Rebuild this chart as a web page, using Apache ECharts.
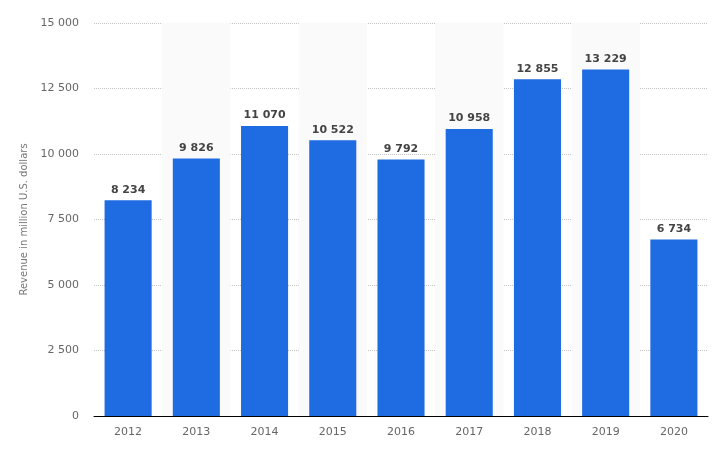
<!DOCTYPE html>
<html>
<head>
<meta charset="utf-8">
<script src="https://cdn.jsdelivr.net/npm/echarts@6/dist/echarts.min.js"></script>
<style>
  html, body { margin: 0; padding: 0; background: #fff; }
  #main { width: 712px; height: 451px; }
</style>
</head>
<body>
<div id="main"></div>
<script>
// years and revenue (million U.S. dollars)
const years = ['2012', '2013', '2014', '2015', '2016', '2017', '2018', '2019', '2020']
const revenue = [8234, 9826, 11070, 10522, 9792, 10958, 12855, 13229, 6734]
const yTicks = [0, 2500, 5000, 7500, 10000, 12500, 15000]

// 12855 -> "12 855"
function fmt (v) {
  return String(v).replace(/\B(?=(\d{3})+(?!\d))/g, ' ')
}

const chart = echarts.init(document.getElementById('main'))
chart.setOption({
  backgroundColor: '#fff',
  animation: false,
  textStyle: { fontFamily: 'DejaVu Sans' },
  grid: { left: 94, right: 4, top: 23, bottom: 35 },
  xAxis: {
    type: 'category',
    data: years,
    axisLine: { lineStyle: { color: '#000', width: 1 } },
    axisTick: { show: false },
    axisLabel: { color: '#666', fontSize: 11, margin: 11 },
    splitArea: { show: true, areaStyle: { color: ['rgba(255,255,255,0)', '#fafafa'] } }
  },
  yAxis: {
    type: 'value',
    min: yTicks[0],
    max: yTicks[yTicks.length - 1],
    interval: 2500,
    name: 'Revenue in million U.S. dollars',
    nameLocation: 'middle',
    nameGap: 59,
    nameTextStyle: { color: '#777', fontSize: 10 },
    axisLine: { show: false },
    axisTick: { show: false },
    axisLabel: { color: '#666', fontSize: 11, margin: 15, formatter: fmt },
    splitLine: { lineStyle: { color: '#c4c4c4', type: [1, 1], width: 1 } }
  },
  series: [{
    type: 'bar',
    data: revenue,
    barWidth: '69%',
    itemStyle: { color: '#1f6be2' },
    label: {
      show: true,
      position: 'top',
      distance: 5,
      color: '#444',
      fontSize: 11,
      fontWeight: 'bold',
      formatter: p => fmt(p.value)
    }
  }]
})
</script>
</body>
</html>
